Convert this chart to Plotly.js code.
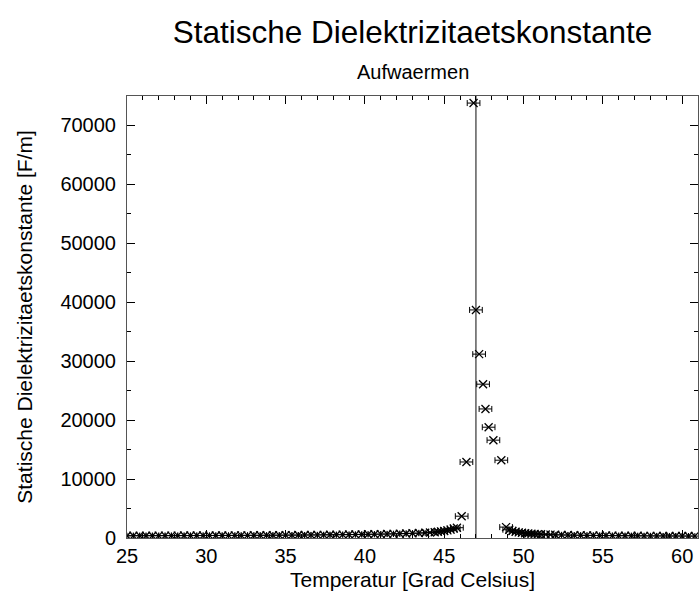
<!DOCTYPE html>
<html>
<head>
<meta charset="utf-8">
<script src="https://cdn.plot.ly/plotly-3.0.1.min.js"></script>
<style>html,body{margin:0;padding:0;background:#fff;}#chart{width:699px;height:596px;}</style>
</head>
<body>
<div id="chart"></div>
<script>
// Temperature [°C]
const temperature = [
  25.0,25.4,25.8,26.2,26.6,27.0,27.4,27.8,28.2,28.6,29.0,29.4,29.8,30.2,30.6,31.0,31.4,31.8,32.2,32.6,
  33.0,33.4,33.8,34.2,34.6,35.0,35.4,35.8,36.2,36.6,37.0,37.4,37.8,38.2,38.6,39.0,39.4,39.8,40.2,40.6,
  41.0,41.4,41.8,42.2,42.6,43.0,43.4,43.8,44.1,44.4,44.6,44.8,45.0,45.2,45.4,45.6,45.8,46.1,46.4,46.85,
  47.0,47.2,47.45,47.6,47.8,48.1,48.6,48.9,49.1,49.3,49.5,49.7,49.9,50.1,50.3,50.5,50.7,50.9,51.1,51.4,
  51.7,52.0,52.4,52.8,53.2,53.6,54.0,54.4,54.8,55.2,55.6,56.0,56.4,56.8,57.2,57.6,58.0,58.4,58.8,59.2,
  59.6,60.0,60.4,60.8
];
// Static dielectric constant [F/m]
const permittivity = [
  380,385,390,392,395,398,400,405,408,410,415,418,420,425,428,432,436,440,445,450,
  455,460,466,472,478,485,492,500,508,516,525,535,545,556,568,580,594,608,624,640,
  660,680,705,730,760,795,835,880,930,990,1050,1120,1200,1300,1420,1600,1750,3700,12900,73800,
  38700,31200,26100,21900,18800,16600,13200,1850,1400,1200,1050,950,880,820,770,730,690,660,630,600,
  570,545,520,500,480,465,450,438,426,415,405,396,388,380,373,366,360,354,348,343,
  338,333,329,325
];
const tempError = 0.4;           // horizontal error bar half-width [°C]
const transitionTemp = [47.0, 47.0];
const transitionSpan = [0, 75000];

const xTicks = [25, 30, 35, 40, 45, 50, 55, 60];
const yTicks = [0, 10000, 20000, 30000, 40000, 50000, 60000, 70000];

const FONT = 'Liberation Sans, Arial, Helvetica, sans-serif';

const traces = [
  {
    x: transitionTemp, y: transitionSpan, type: 'scatter', mode: 'lines',
    line: {color: '#222222', width: 1.1}, hoverinfo: 'skip', showlegend: false
  },
  {
    x: temperature, y: permittivity, type: 'scatter', mode: 'markers',
    marker: {symbol: 'x-thin', size: 8, color: '#000', line: {color: '#000', width: 1.3}},
    error_x: {type: 'constant', value: tempError, color: '#000', thickness: 1, width: 3},
    showlegend: false
  }
];

const layout = {
  width: 699, height: 596,
  paper_bgcolor: '#fff', plot_bgcolor: '#fff',
  margin: {l: 127, r: 1, t: 96, b: 58},
  font: {family: FONT, color: '#000', size: 20},
  title: {
    text: 'Statische Dielektrizitaetskonstante',
    font: {family: FONT, size: 31.5, color: '#000'},
    xref: 'paper', x: 0.5, xanchor: 'center',
    yref: 'container', y: 1 - 32/596, yanchor: 'middle'
  },
  annotations: [{
    text: 'Aufwaermen', xref: 'paper', yref: 'paper', x: 0.5, y: 1,
    xanchor: 'center', yanchor: 'middle', yshift: 24, showarrow: false,
    font: {family: FONT, size: 20, color: '#000'}
  }],
  xaxis: {
    range: [25, 61], tickvals: xTicks, ticktext: xTicks.map(String),
    ticks: 'inside', ticklen: 8, tickcolor: '#000', tickwidth: 1,
    minor: {dtick: 1, tick0: 25, ticks: 'inside', ticklen: 4, tickcolor: '#000', showgrid: false},
    showline: true, linecolor: '#555', linewidth: 1, mirror: 'allticks',
    showgrid: false, zeroline: false,
    tickfont: {family: FONT, size: 20, color: '#000'},
    title: {text: 'Temperatur [Grad Celsius]', font: {family: FONT, size: 21, color: '#000'}, standoff: 6}
  },
  yaxis: {
    range: [0, 75000], tickvals: yTicks, ticktext: yTicks.map(String),
    ticks: 'inside', ticklen: 8, tickcolor: '#000', tickwidth: 1,
    minor: {dtick: 5000, tick0: 0, ticks: 'inside', ticklen: 4, tickcolor: '#000', showgrid: false},
    showline: true, linecolor: '#555', linewidth: 1, mirror: 'allticks',
    showgrid: false, zeroline: false,
    tickfont: {family: FONT, size: 20, color: '#000'},
    ticklabelstandoff: 6,
    title: {text: 'Statische Dielektrizitaetskonstante [F/m]', font: {family: FONT, size: 21, color: '#000'}, standoff: 22}
  }
};

Plotly.newPlot('chart', traces, layout, {displayModeBar: false, staticPlot: true});
</script>
</body>
</html>
